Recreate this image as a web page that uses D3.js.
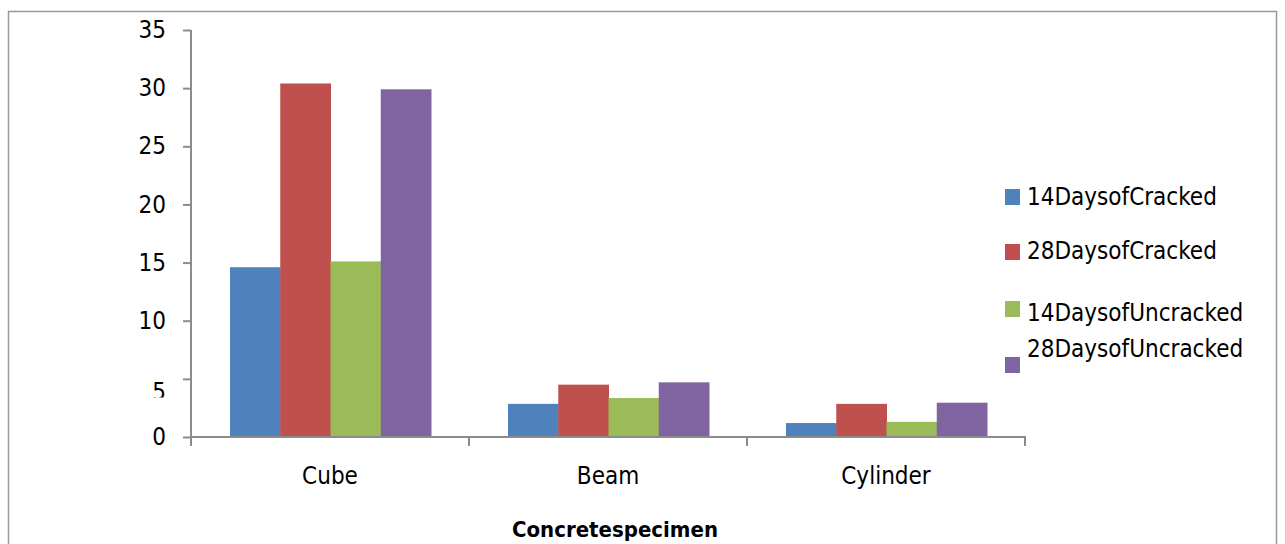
<!DOCTYPE html>
<html><head><meta charset="utf-8">
<script src="https://cdn.jsdelivr.net/npm/d3@7"></script>
<style>
body{margin:0;background:#fff;}
svg text{font-family:"DejaVu Sans Condensed","DejaVu Sans",sans-serif;font-stretch:condensed;}
</style></head>
<body><svg id="c" width="1285" height="544"></svg>
<script>
const categories = ["Cube", "Beam", "Cylinder"];
const seriesNames = ["14DaysofCracked", "28DaysofCracked", "14DaysofUncracked", "28DaysofUncracked"];
const s14Cracked = [14.6, 2.85, 1.2];
const s28Cracked = [30.4, 4.5, 2.85];
const s14Uncracked = [15.1, 3.35, 1.3];
const s28Uncracked = [29.9, 4.7, 2.95];
const yTicks = [0, 5, 10, 15, 20, 25, 30, 35];
const colors = ["#4F81BD", "#C0504D", "#9BBB59", "#8064A2"];
const xTitle = "Concretespecimen";

(function(){
const seriesVals = [s14Cracked, s28Cracked, s14Uncracked, s28Uncracked];
const svg = d3.select("#c");
const axisCol = "#8c8c8c";

svg.append("rect").attr("x", 8.5).attr("y", 11.5).attr("width", 1268).attr("height", 600)
  .attr("fill", "none").attr("stroke", "#999").attr("stroke-width", 1.5);

const pLeft = 191, pRight = 1025, pTop = 30, pBottom = 437;
const y = d3.scaleLinear().domain([0, 35]).range([pBottom, pTop]);
const x = d3.scaleBand().domain(categories).range([pLeft, pRight]).paddingInner(0).paddingOuter(0);
const xs = d3.scaleBand().domain(seriesNames).range([39, x.bandwidth() - 38]);

const g = svg.append("g");
categories.forEach((c, ci) => {
  seriesNames.forEach((s, si) => {
    const v = seriesVals[si][ci];
    g.append("rect")
      .attr("x", x(c) + xs(s))
      .attr("y", y(v))
      .attr("width", xs.bandwidth() + 0.5)
      .attr("height", y(0) - y(v))
      .attr("fill", colors[si]);
  });
});

const defs = svg.append("defs");
defs.append("clipPath").attr("id", "clipfive").append("rect")
  .attr("x", -100).attr("y", -50).attr("width", 100).attr("height", 50 + (397 - y(5)));

const yAxis = svg.append("g").attr("transform", `translate(${pLeft},0)`)
  .call(d3.axisLeft(y).tickValues(yTicks).tickSize(8).tickPadding(17).tickFormat(d3.format("d")));
yAxis.select(".domain").remove();
yAxis.selectAll(".tick line").attr("stroke", axisCol).attr("stroke-width", 2);
yAxis.selectAll(".tick text").attr("font-size", 24).attr("fill", "#000")
  .attr("font-family", '"DejaVu Sans Condensed","DejaVu Sans",sans-serif');
yAxis.selectAll(".tick").filter(d => d === 5).select("text")
  .attr("dy", "0.85em").attr("clip-path", "url(#clipfive)");
svg.append("line").attr("x1", pLeft).attr("x2", pLeft).attr("y1", pTop).attr("y2", pBottom + 9)
  .attr("stroke", axisCol).attr("stroke-width", 2);

svg.append("line").attr("x1", pLeft).attr("x2", pRight + 1).attr("y1", pBottom).attr("y2", pBottom)
  .attr("stroke", axisCol).attr("stroke-width", 2);
const bounds = categories.map(c => x(c)).concat([pRight]);
bounds.forEach(b => {
  svg.append("line").attr("x1", b).attr("x2", b).attr("y1", pBottom).attr("y2", pBottom + 9)
    .attr("stroke", axisCol).attr("stroke-width", 2);
});
categories.forEach(c => {
  svg.append("text").attr("x", x(c) + x.bandwidth() / 2).attr("y", 484)
    .attr("text-anchor", "middle").attr("font-size", 24).attr("fill", "#000").text(c);
});
svg.append("text").attr("x", 615).attr("y", 537).attr("text-anchor", "middle")
  .attr("font-size", 22).attr("font-weight", "bold").attr("fill", "#000").text(xTitle);

const legSq = [189, 244, 301, 357];
const legTx = [205, 259, 321, 357];
seriesNames.forEach((s, i) => {
  svg.append("rect").attr("x", 1005).attr("y", legSq[i]).attr("width", 15).attr("height", 16).attr("fill", colors[i]);
  svg.append("text").attr("x", 1027).attr("y", legTx[i]).attr("font-size", 24).attr("fill", "#000").text(s);
});
})();
</script></body></html>
